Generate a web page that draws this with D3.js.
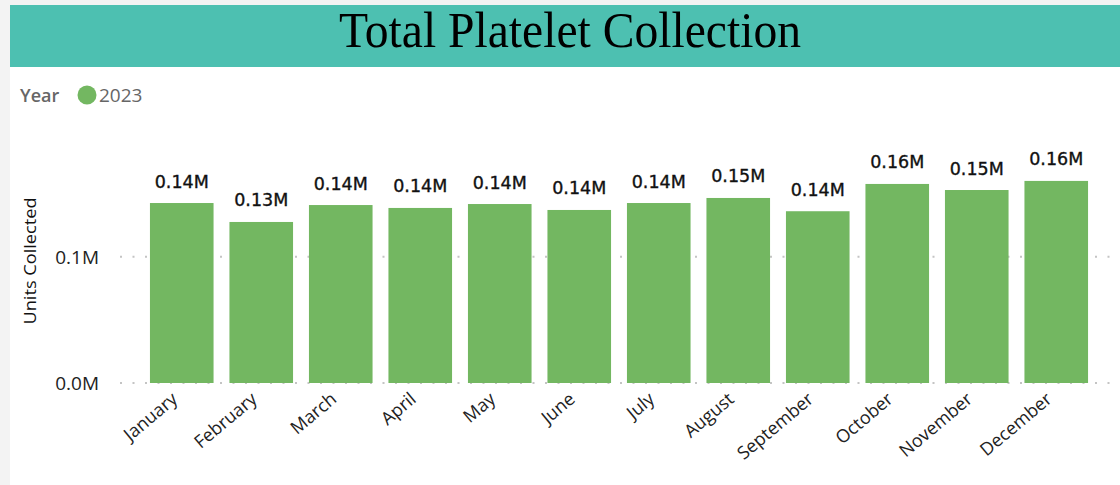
<!DOCTYPE html>
<html><head><meta charset="utf-8">
<script src="https://cdn.jsdelivr.net/npm/d3@7"></script>
<style>body{margin:0;background:#f3f3f3;overflow:hidden}svg{display:block}</style>
</head><body>
<svg id="c" width="1120" height="485"></svg>
<script>
const months = ["January","February","March","April","May","June","July","August","September","October","November","December"];
const units2023 = [142500,127500,140900,138600,141700,137000,142500,146500,136000,157600,152800,160000];
const yTicks = [0, 100000];
const yTickLabels = ["0.0M","0.1M"];
const seriesName = "2023";

const svg = d3.select("#c");
svg.append("rect").attr("x",10).attr("y",5).attr("width",1110).attr("height",480).attr("fill","#fff");
svg.append("rect").attr("x",10).attr("y",5).attr("width",1110).attr("height",62).attr("fill","#4DC0B1");
svg.append("text").attr("x",570).attr("y",47).attr("text-anchor","middle")
  .attr("font-family","Liberation Serif, Times New Roman, serif").attr("font-size",50).attr("fill","#000")
  .attr("textLength",462).attr("lengthAdjust","spacingAndGlyphs")
  .text("Total Platelet Collection");

// legend
svg.append("text").attr("x",20).attr("y",102).attr("font-family","Open Sans, sans-serif").attr("font-weight","600")
  .attr("font-size",18).attr("fill","#666").text("Year");
svg.append("circle").attr("cx",87).attr("cy",95).attr("r",9.5).attr("fill","#73B761");
svg.append("text").attr("x",99).attr("y",102).attr("font-family","Open Sans, sans-serif")
  .attr("font-size",19).attr("fill","#666").text(seriesName);

const x = d3.scaleBand().domain(months).range([142,1096]).paddingInner(0.2).paddingOuter(0.1);
const y = d3.scaleLinear().domain([0,100000]).range([383,256.7]);

// gridlines
const g = svg.append("g");
g.selectAll("line.grid").data(yTicks).join("line")
  .attr("x1",120).attr("x2",1116).attr("y1",d=>y(d)).attr("y2",d=>y(d))
  .attr("stroke","#c4c4c4").attr("stroke-width",2).attr("stroke-dasharray","2,10.5");

const yAxis = d3.axisLeft(y).tickValues(yTicks).tickFormat((d,i)=>yTickLabels[i]).tickSize(0).tickPadding(0);
const ya = svg.append("g").attr("transform","translate(99,0)").call(yAxis);
ya.select(".domain").remove();
ya.selectAll("text").attr("font-family","Open Sans, sans-serif").attr("font-size",19).attr("fill","#222").attr("dy","0.36em");

svg.append("text").attr("transform","translate(36,261) rotate(-90)").attr("text-anchor","middle")
  .attr("font-family","Open Sans, sans-serif").attr("font-size",16).attr("fill","#111")
  .attr("textLength",127).attr("lengthAdjust","spacingAndGlyphs")
  .text("Units Collected");

svg.append("g").selectAll("rect").data(months).join("rect")
  .attr("x",d=>x(d)).attr("width",x.bandwidth())
  .attr("y",(d,i)=>y(units2023[i])).attr("height",(d,i)=>y(0)-y(units2023[i]))
  .attr("fill","#73B761");

svg.append("g").selectAll("text").data(months).join("text")
  .attr("x",d=>x(d)+x.bandwidth()/2).attr("y",(d,i)=>y(units2023[i])-15.5)
  .attr("text-anchor","middle").attr("font-family","DejaVu Sans, sans-serif")
  .attr("font-size",17.5).attr("fill","#111").attr("stroke","#111").attr("stroke-width",0.35)
  .text((d,i)=>(units2023[i]/1e6).toFixed(2)+"M");

const xAxis = d3.axisBottom(x).tickSize(0).tickPadding(0);
const xa = svg.append("g").attr("transform","translate(0,383)").call(xAxis);
xa.select(".domain").remove();
xa.selectAll("text").attr("font-family","Open Sans, sans-serif").attr("font-size",18).attr("fill","#222")
  .attr("text-anchor","end").attr("dy",0)
  .attr("transform","translate(-3,18) rotate(-40)");
</script>
</body></html>
